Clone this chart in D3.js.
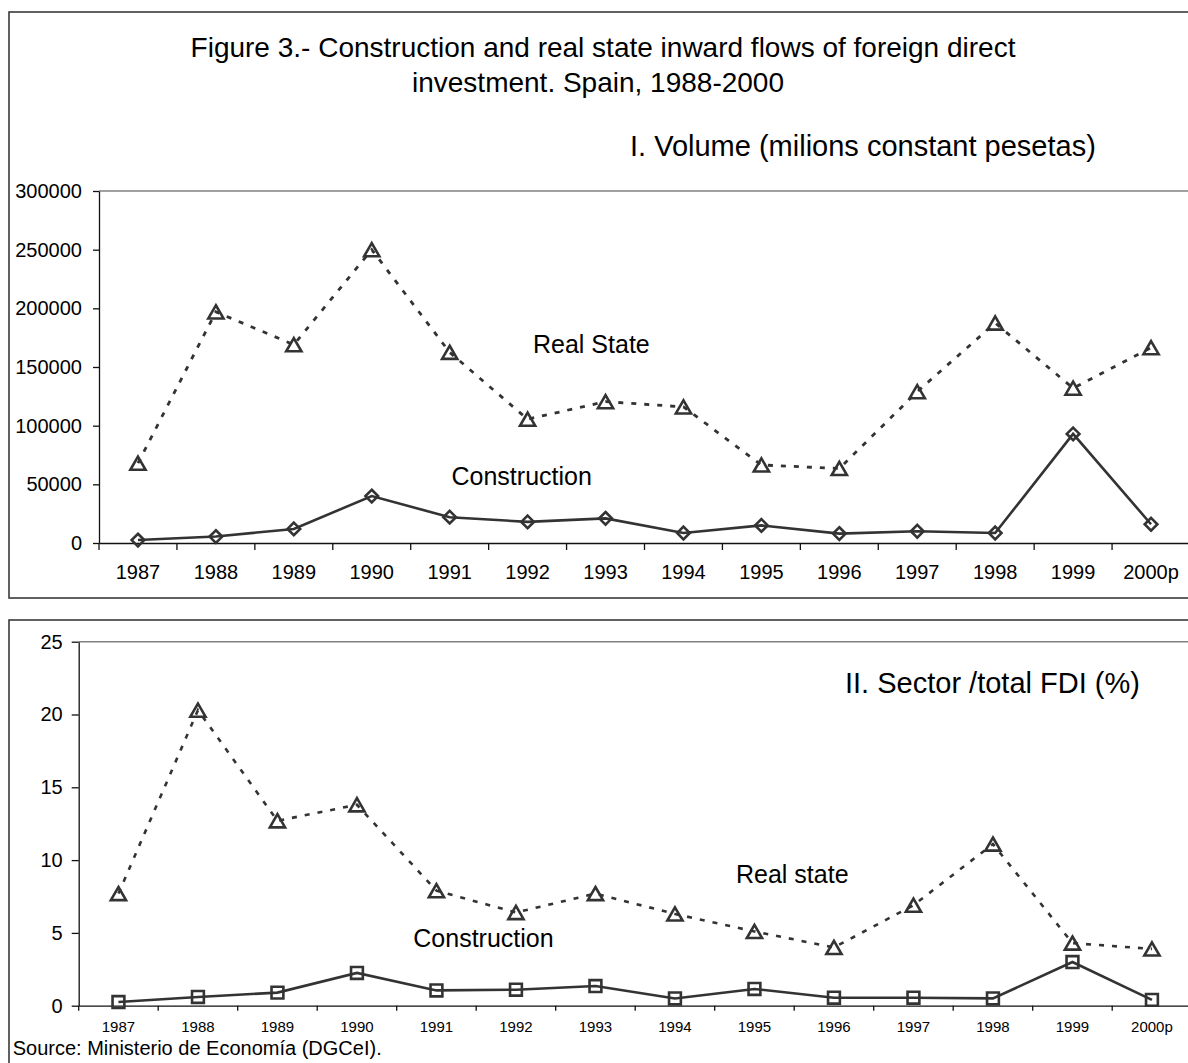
<!DOCTYPE html>
<html>
<head>
<meta charset="utf-8">
<script src="https://cdn.jsdelivr.net/npm/d3@7"></script>
<style>
  html, body { margin: 0; padding: 0; background: #fff; }
  svg { display: block; font-family: "Liberation Sans", Arial, sans-serif; }
  text { fill: #000; }
</style>
</head>
<body>
<svg id="chart" width="1188" height="1063"></svg>
<script>
// ---------- data ----------
const years = ["1987","1988","1989","1990","1991","1992","1993","1994","1995","1996","1997","1998","1999","2000p"];
const realStateVolume   = [68000,197000,169000,250000,162500,105500,120500,116000,66500,63500,129000,187500,132000,166500];
const constructionVolume = [2500,5500,12000,40000,22000,18000,21000,8500,15000,8000,10000,8500,93000,16000];
const realStateShare    = [7.7,20.3,12.7,13.8,7.9,6.4,7.7,6.3,5.1,4.0,6.9,11.1,4.3,3.9];
const constructionShare = [0.25,0.6,0.9,2.25,1.05,1.1,1.35,0.5,1.15,0.55,0.55,0.5,3.0,0.4];
const volumeTicks = [0,50000,100000,150000,200000,250000,300000];
const shareTicks = [0,5,10,15,20,25];

const titleLine1 = "Figure 3.- Construction and real state inward flows of foreign direct";
const titleLine2 = "investment. Spain, 1988-2000";
const subtitle1 = "I. Volume (milions constant pesetas)";
const subtitle2 = "II. Sector /total FDI (%)";
const source = "Source: Ministerio de Economía (DGCeI).";

// ---------- helpers ----------
const svg = d3.select("#chart");
const INK = "#333";

// custom marker types (bounding-box centred, like spreadsheet markers)
const triangleType = { draw(ctx, size) {
  const s = Math.sqrt(size * 4 / Math.sqrt(3)); const h = s * Math.sqrt(3) / 2;
  ctx.moveTo(0, -h / 2); ctx.lineTo(s / 2, h / 2); ctx.lineTo(-s / 2, h / 2); ctx.closePath(); } };
const diamondType = { draw(ctx, size) {
  const r = Math.sqrt(size) / Math.SQRT2;
  ctx.moveTo(0, -r); ctx.lineTo(r, 0); ctx.lineTo(0, r); ctx.lineTo(-r, 0); ctx.closePath(); } };
const squareType = d3.symbolSquare;

// panels
svg.append("rect").attr("x", 9).attr("y", 12).attr("width", 1200).attr("height", 586)
  .attr("fill", "none").attr("stroke", "#3a3a3a").attr("stroke-width", 1.6);
svg.append("rect").attr("x", 9).attr("y", 620).attr("width", 1200).attr("height", 500)
  .attr("fill", "none").attr("stroke", "#3a3a3a").attr("stroke-width", 1.6);

// titles
svg.append("text").attr("x", 603).attr("y", 56.5).attr("text-anchor", "middle")
  .attr("font-size", 28).text(titleLine1);
svg.append("text").attr("x", 598).attr("y", 91.5).attr("text-anchor", "middle")
  .attr("font-size", 28).text(titleLine2);
svg.append("text").attr("x", 630).attr("y", 156).attr("font-size", 29).text(subtitle1);
svg.append("text").attr("x", 845).attr("y", 693).attr("font-size", 29).text(subtitle2);
svg.append("text").attr("x", 12.7).attr("y", 1055).attr("font-size", 20).text(source);

function drawPanel(cfg) {
  const x = d3.scaleBand().domain(years).range([cfg.left, cfg.right]).padding(0);
  const y = d3.scaleLinear().domain([0, cfg.max]).range([cfg.bottom, cfg.top]);
  const g = svg.append("g");

  // plot-area top border
  g.append("line").attr("x1", cfg.left).attr("x2", 1200).attr("y1", cfg.top).attr("y2", cfg.top)
    .attr("stroke", "#808080").attr("stroke-width", 1.4);

  // y axis
  const ya = g.append("g").attr("transform", `translate(${cfg.left},0)`)
    .call(d3.axisLeft(y).tickValues(cfg.ticks).tickSize(cfg.yTick).tickSizeOuter(0)
      .tickPadding(cfg.yPad).tickFormat(d3.format("d")));
  ya.selectAll("path,line").attr("stroke", "#111").attr("stroke-width", 1.3);
  ya.selectAll("text").attr("font-size", 20).attr("font-family", "Liberation Sans, Arial, sans-serif").attr("fill", "#000");

  // x axis: labels centred in bands, ticks at band boundaries
  const xa = g.append("g").attr("transform", `translate(0,${cfg.bottom})`)
    .call(d3.axisBottom(x).tickSize(0).tickSizeOuter(0).tickPadding(cfg.xPad));
  xa.select("path").attr("stroke", "#111").attr("stroke-width", 1.3);
  xa.selectAll("text").attr("font-size", cfg.xFont).attr("font-family", "Liberation Sans, Arial, sans-serif").attr("fill", "#000");
  const bounds = years.map(d => x(d)).concat([x(years[years.length - 1]) + x.bandwidth()]);
  g.selectAll(".xb").data(bounds).join("line")
    .attr("x1", d => d).attr("x2", d => d)
    .attr("y1", cfg.bottom).attr("y2", cfg.bottom + cfg.xTick)
    .attr("stroke", "#111").attr("stroke-width", 1.3);

  const cx = d => x(d) + x.bandwidth() / 2;

  cfg.series.forEach(s => {
    const pts = years.map((yr, i) => [cx(yr), y(s.values[i])]);
    g.append("path").attr("d", d3.line()(pts)).attr("fill", "none")
      .attr("stroke", INK).attr("stroke-width", s.width)
      .attr("stroke-dasharray", s.dash || null);
    g.selectAll(null).data(pts).join("path")
      .attr("transform", p => `translate(${p[0]},${p[1]})`)
      .attr("d", d3.symbol().type(s.marker).size(s.size))
      .attr("fill", "none").attr("stroke", INK).attr("stroke-width", 2.6);
  });

  cfg.labels.forEach(l => {
    g.append("text").attr("x", l.x).attr("y", l.y).attr("font-size", 25).text(l.text);
  });
}

drawPanel({
  left: 99, right: 1190, top: 191, bottom: 543, max: 300000, ticks: volumeTicks,
  yTick: 6, yPad: 11, xTick: 7, xPad: 22, xFont: 20,
  series: [
    { values: realStateVolume, marker: triangleType, size: 100, dash: "5,8", width: 2.8 },
    { values: constructionVolume, marker: diamondType, size: 80, width: 2.6 }
  ],
  labels: [
    { text: "Real State", x: 533, y: 352.5 },
    { text: "Construction", x: 451.5, y: 485 }
  ]
});

drawPanel({
  left: 78.7, right: 1191.7, top: 641.7, bottom: 1005.7, max: 25, ticks: shareTicks,
  yTick: 7, yPad: 9, xTick: 5, xPad: 16, xFont: 15,
  series: [
    { values: realStateShare, marker: triangleType, size: 100, dash: "5,8", width: 2.6 },
    { values: constructionShare, marker: squareType, size: 140, width: 2.6 }
  ],
  labels: [
    { text: "Real state", x: 736, y: 882.5 },
    { text: "Construction", x: 413.3, y: 946.5 }
  ]
});
</script>
</body>
</html>
